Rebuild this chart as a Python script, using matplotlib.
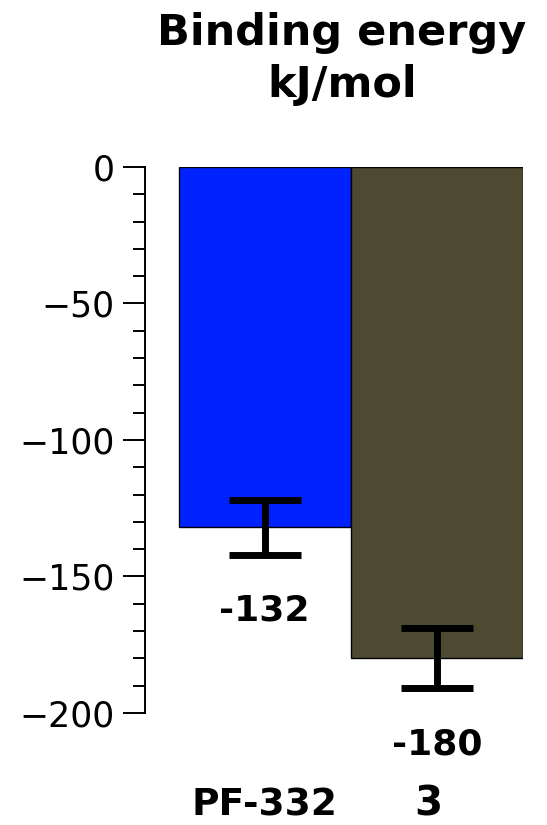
import matplotlib
matplotlib.use("Agg")
import matplotlib.pyplot as plt
from matplotlib.ticker import MultipleLocator

compounds = ["PF-332", "3"]
energy = [-132, -180]
errors = [10, 11]
colors = ["#0022ff", "#4e4a32"]

fig = plt.figure(figsize=(5.47, 8.25), dpi=100)
ax = fig.add_axes([0.265, 0.1358, 0.691, 0.6618])

x = list(range(len(compounds)))
ax.bar(x, energy, width=1.0, color=colors, edgecolor="black", linewidth=1.0)
ax.errorbar(x, energy, yerr=errors, fmt="none", ecolor="black",
            elinewidth=5, capsize=26, capthick=5)

for xi, v, e in zip(x, energy, errors):
    ax.annotate(str(v), (xi, v - e), xytext=(0, -28), textcoords="offset points",
                ha="center", va="top", fontsize=26, fontweight="bold")

ax.set_xlim(-0.695, 1.5)
ax.set_ylim(-200, 0)
ax.yaxis.set_major_locator(MultipleLocator(50))
ax.yaxis.set_minor_locator(MultipleLocator(10))
ax.tick_params(axis="y", which="major", length=16, width=1.4, labelsize=25, pad=6)
ax.tick_params(axis="y", which="minor", length=9, width=1.4)
ax.spines["left"].set_linewidth(1.4)
for s in ["top", "right", "bottom"]:
    ax.spines[s].set_visible(False)

# category names under the bars
ax.set_xticks([])
ax.text(x[0], -234, compounds[0], ha="center", va="center",
        fontsize=27, fontweight="bold", clip_on=False)
ax.text(x[1] - 0.05, -233.5, compounds[1], ha="center", va="center",
        fontsize=29, fontweight="bold", clip_on=False)

fig.text(0.625, 0.985, "Binding energy\nkJ/mol", ha="center", va="top",
         fontsize=31, fontweight="bold", linespacing=1.3)

plt.savefig("out.png", dpi=100)
plt.close()
